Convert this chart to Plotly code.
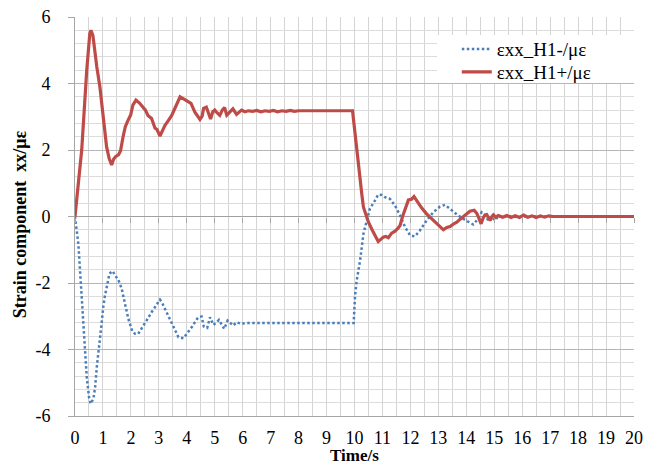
import plotly.graph_objects as go

# ---- data ----
red_t = [0.00, 0.24, 0.42, 0.53, 0.57, 0.64, 0.78, 0.89, 1.01, 1.13, 1.22, 1.31, 1.38, 1.45, 1.56,
         1.63, 1.72, 1.80, 1.90, 1.99, 2.07, 2.18, 2.30, 2.42, 2.52, 2.61, 2.74, 2.86, 2.93, 3.04,
         3.13, 3.22, 3.35, 3.46, 3.60, 3.76, 3.90, 4.05, 4.15, 4.29, 4.40, 4.47, 4.55, 4.60, 4.70,
         4.78, 4.85, 4.93, 5.00, 5.08, 5.18, 5.27, 5.35, 5.43, 5.55, 5.65, 5.78, 5.88, 5.96, 6.08,
         6.20, 6.35, 6.50, 6.65, 6.80, 6.95, 7.10, 7.25, 7.40, 7.55, 7.70, 7.85, 8.00, 9.93,
         10.14, 10.26, 10.32, 10.50, 10.67, 10.85, 10.95, 11.03, 11.12, 11.21, 11.33, 11.45, 11.55,
         11.63, 11.72, 11.81, 11.93, 12.04, 12.13, 12.25, 12.40, 12.58, 12.82, 13.00, 13.18, 13.30,
         13.42, 13.55, 13.66, 13.78, 13.90, 14.02, 14.13, 14.28, 14.37, 14.45, 14.53, 14.60, 14.67,
         14.73, 14.80, 14.85, 14.92, 14.97, 15.05, 15.15, 15.30, 15.45, 15.60, 15.75, 15.90, 16.05,
         16.20, 16.35, 16.50, 16.65, 16.80, 16.95, 17.10, 20.00]
red_v = [0.00, 2.00, 4.40, 5.50, 5.60, 5.45, 4.50, 3.90, 3.00, 2.10, 1.75, 1.55, 1.72, 1.80, 1.86,
         1.98, 2.40, 2.70, 2.90, 3.05, 3.35, 3.50, 3.42, 3.30, 3.20, 3.04, 2.95, 2.66, 2.62, 2.42,
         2.60, 2.74, 2.90, 3.04, 3.30, 3.60, 3.53, 3.45, 3.40, 3.14, 2.98, 2.92, 3.02, 3.25, 3.29,
         3.10, 2.93, 3.15, 3.20, 3.12, 3.04, 3.20, 3.28, 3.05, 3.15, 3.24, 3.07, 3.15, 3.20, 3.15,
         3.18, 3.16, 3.19, 3.15, 3.18, 3.16, 3.19, 3.15, 3.18, 3.16, 3.19, 3.16, 3.18, 3.18,
         1.48, 0.68, 0.28, -0.17, -0.47, -0.75, -0.68, -0.62, -0.60, -0.64, -0.50, -0.44, -0.36,
         -0.27, 0.00, 0.20, 0.50, 0.52, 0.60, 0.45, 0.26, 0.08, -0.12, -0.27, -0.40, -0.33,
         -0.30, -0.22, -0.17, -0.08, 0.00, 0.10, 0.16, 0.19, 0.10, -0.05, -0.22, -0.05, 0.05,
         0.06, -0.05, -0.12, 0.00, 0.05, -0.02, 0.03, -0.02, 0.03, -0.03, 0.02, -0.03, 0.04,
         -0.02, 0.02, -0.03, 0.02, -0.02, 0.02, 0.00, 0.00]

blue_t = [0.00, 0.02, 0.12, 0.18, 0.24, 0.30, 0.36, 0.42, 0.50, 0.56, 0.66, 0.72, 0.78, 0.87, 0.95,
          1.01, 1.07, 1.16, 1.23, 1.35, 1.43, 1.55, 1.67, 1.79, 1.91, 2.05, 2.15, 2.26, 2.38, 2.56,
          2.74, 2.90, 3.04, 3.12, 3.22, 3.40, 3.58, 3.70, 3.88, 4.05, 4.20, 4.29, 4.41, 4.53, 4.61,
          4.73, 4.83, 4.95, 5.05, 5.15, 5.34, 5.46, 5.56, 5.66, 5.78, 5.96, 6.10, 6.26, 9.97,
          10.02, 10.08, 10.20, 10.32, 10.44, 10.55, 10.73, 10.85, 10.97, 11.09, 11.27, 11.45, 11.63,
          11.81, 11.99, 12.16, 12.34, 12.58, 12.82, 13.06, 13.24, 13.48, 13.71, 13.95, 14.25, 14.37,
          14.55, 14.67, 14.79, 14.90, 15.03, 15.15, 15.30, 15.50, 15.80, 16.10, 20.00]
blue_v = [0.00, -0.17, -0.82, -1.62, -2.43, -3.23, -4.03, -4.83, -5.43, -5.63, -5.48, -5.13, -4.53,
          -3.93, -3.23, -2.73, -2.38, -2.03, -1.72, -1.64, -1.77, -1.90, -2.17, -2.63, -3.08, -3.45,
          -3.53, -3.53, -3.38, -3.13, -2.88, -2.68, -2.50, -2.60, -2.78, -3.13, -3.45, -3.63, -3.66,
          -3.48, -3.30, -3.18, -3.03, -3.01, -3.31, -3.35, -3.03, -3.26, -3.20, -3.11, -3.38, -3.13,
          -3.22, -3.28, -3.18, -3.23, -3.20, -3.20, -3.20,
          -2.38, -1.92, -1.32, -0.52, -0.12, 0.23, 0.48, 0.66, 0.65, 0.58, 0.53, 0.33, 0.03,
          -0.32, -0.57, -0.60, -0.42, -0.12, 0.13, 0.30, 0.35, 0.18, 0.03, -0.10, -0.24, -0.12,
          0.13, 0.03, -0.12, 0.00, -0.12, 0.02, -0.03, 0.02, -0.02, 0.00, 0.00]

blue_name = "εxx_H1-/με"
red_name = "εxx_H1+/με"
x_title = "Time/s"
y_title = "Strain component  xx/με"
x_ticks = list(range(0, 21))
y_ticks = [-6, -4, -2, 0, 2, 4, 6]

FONT = "Liberation Serif, Times New Roman, serif"
AX = "#a6a6a6"

fig = go.Figure()
fig.add_trace(go.Scatter(x=blue_t, y=blue_v, mode="lines", name=blue_name, legend="legend",
                         line=dict(color="#4a7ebb", width=2.5, dash="2.5px,2.5px")))
fig.add_trace(go.Scatter(x=red_t, y=red_v, mode="lines", name=red_name, legend="legend2",
                         line=dict(color="#be4b48", width=3.2)))
# helper trace for the tick axis that crosses at y = 0
fig.add_trace(go.Scatter(x=red_t[:1], y=red_v[:1], xaxis="x2", mode="markers",
                         marker=dict(opacity=0), showlegend=False, hoverinfo="skip"))

leg_common = dict(xanchor="left", yanchor="top", bgcolor="rgba(0,0,0,0)",
                  font=dict(family=FONT, size=19), borderwidth=0)

fig.update_layout(
    width=650, height=456,
    margin=dict(l=67, r=24, t=9, b=48, autoexpand=False),
    paper_bgcolor="white", plot_bgcolor="white",
    font=dict(family=FONT, size=18, color="black"),
    showlegend=True,
    legend=dict(x=0.683, y=0.967, **leg_common),
    legend2=dict(x=0.683, y=0.9095, **leg_common),
    # white legend box (covers the grid, like the original chart's legend area)
    shapes=[dict(type="rect", xref="paper", yref="paper", x0=0.6476, x1=1.0107,
                 y0=0.8346, y1=0.955, fillcolor="white", line=dict(width=0), layer="above")],
    xaxis=dict(range=[0, 20], tickvals=x_ticks, ticktext=[str(v) for v in x_ticks],
               showgrid=True, gridcolor="#d4d4d4", gridwidth=1,
               minor=dict(dtick=0.5, showgrid=True, gridcolor="#d4d4d4"),
               showline=True, linecolor=AX, linewidth=1, mirror=False,
               ticks="", ticklabelstandoff=5, zeroline=False, automargin=False,
               ticklabeloverflow="allow",
               tickfont=dict(family=FONT, size=18)),
    xaxis2=dict(range=[0, 20], overlaying="x", anchor="free", position=0.5, side="bottom",
                tickvals=x_ticks, ticks="outside", ticklen=5, tickcolor=AX, automargin=False,
                showticklabels=False, showgrid=False, showline=False, zeroline=False),
    yaxis=dict(range=[-6, 6], tickvals=y_ticks, ticktext=[str(v) for v in y_ticks],
               showgrid=True, gridcolor="#b5b5b5", gridwidth=1,
               minor=dict(dtick=0.4, tick0=0, showgrid=True, gridcolor="#dcdcdc"),
               showline=True, linecolor=AX, linewidth=1, automargin=False,
               ticks="outside", ticklen=6, tickcolor=AX, ticklabelstandoff=14,
               ticklabeloverflow="allow",
               tickfont=dict(family=FONT, size=18),
               zeroline=True, zerolinecolor="#a0a0a0", zerolinewidth=1),
    annotations=[
        dict(text="<b>" + x_title + "</b>", xref="paper", yref="paper", x=0.5, y=-0.098,
             xanchor="center", yanchor="middle", showarrow=False,
             font=dict(family=FONT, size=17, color="black")),
        dict(text="<b>" + y_title + "</b>", xref="paper", yref="paper", x=-0.097, y=0.48,
             xanchor="center", yanchor="middle", showarrow=False, textangle=-90,
             font=dict(family=FONT, size=18, color="black")),
    ],
)

fig.write_html("out.html")
